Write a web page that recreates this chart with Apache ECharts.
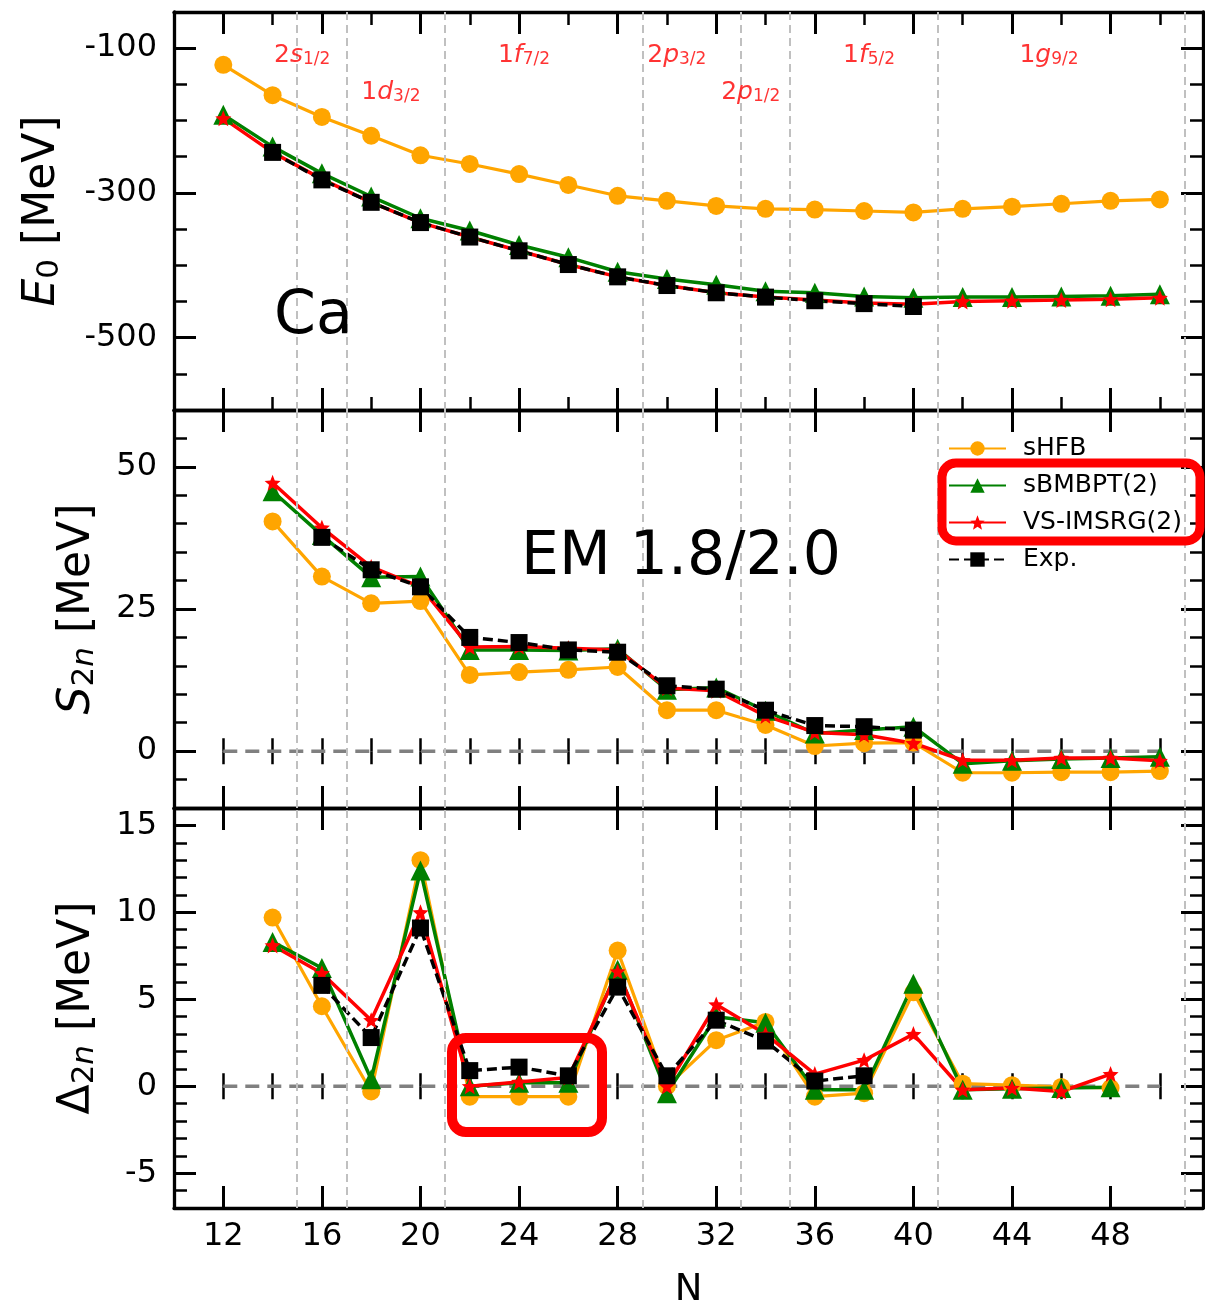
<!DOCTYPE html>
<html>
<head>
<meta charset="utf-8">
<title>Ca EM 1.8/2.0</title>
<script src="https://cdn.jsdelivr.net/npm/echarts@6/dist/echarts.min.js"></script>
<style>
  html, body { margin: 0; padding: 0; background: #fff; }
  #main { width: 1205px; height: 1308px; }
</style>
</head>
<body>
<div id="main"></div>
<script>
// ---- data ----
var N_all = [12, 14, 16, 18, 20, 22, 24, 26, 28, 30, 32, 34, 36, 38, 40, 42, 44, 46, 48, 50];
var E0_sHFB   = [-123, -165, -195, -221, -248, -260, -274, -289, -304, -311, -318, -322, -323, -325, -327, -322, -319, -315, -311, -309];
var E0_sBMBPT = [-192, -236, -273, -305, -335, -352, -372, -389, -409, -419, -427, -436, -438, -443, -445, -444, -444, -443, -442, -440];
var E0_VS     = [-197, -244, -281, -313, -341, -361, -380, -399, -416, -428, -438, -444, -448, -452, -454, -450, -449, -448, -447, -445];
var N_E0exp   = [14, 16, 18, 20, 22, 24, 26, 28, 30, 32, 34, 36, 38, 40];
var E0_exp    = [-244, -282, -313, -341, -361, -380, -399, -416, -428, -438, -444, -449, -453, -457];

var N_S2n      = [14, 16, 18, 20, 22, 24, 26, 28, 30, 32, 34, 36, 38, 40, 42, 44, 46, 48, 50];
var S2n_sHFB   = [40.4, 30.7, 26.0, 26.4, 13.4, 13.9, 14.3, 14.8, 7.2, 7.2, 4.6, 0.9, 1.4, 1.5, -3.8, -3.8, -3.7, -3.7, -3.5];
var S2n_sBMBPT = [45.7, 38.0, 30.6, 30.7, 17.8, 17.8, 17.7, 18.0, 10.8, 11.2, 7.1, 3.1, 3.7, 4.3, -2.2, -1.7, -1.4, -1.2, -1.0];
var S2n_VS     = [47.2, 39.3, 32.4, 28.9, 18.3, 18.4, 18.1, 17.8, 11.1, 10.6, 6.2, 3.3, 2.9, 1.4, -1.6, -1.6, -1.2, -1.2, -1.7];
var N_S2nexp   = [16, 18, 20, 22, 24, 26, 28, 30, 32, 34, 36, 38, 40];
var S2n_exp    = [37.6, 31.9, 28.9, 20.0, 19.1, 17.8, 17.4, 11.5, 10.9, 7.2, 4.5, 4.3, 3.7];

var N_D2n      = [14, 16, 18, 20, 22, 24, 26, 28, 30, 32, 34, 36, 38, 40, 42, 44, 46, 48];
var D2n_sHFB   = [9.7, 4.6, -0.3, 13.0, -0.6, -0.6, -0.6, 7.8, 0.0, 2.65, 3.7, -0.6, -0.4, 5.4, 0.15, 0.06, -0.04, -0.1];
var D2n_sBMBPT = [8.3, 6.8, 0.4, 12.4, 0.0, 0.2, 0.2, 6.7, -0.4, 4.0, 3.65, -0.2, -0.2, 5.9, -0.2, -0.15, -0.1, -0.05];
var D2n_VS     = [8.1, 6.5, 3.8, 10.0, 0.0, 0.25, 0.5, 6.6, 0.0, 4.7, 3.0, 0.7, 1.5, 3.0, -0.2, -0.1, -0.3, 0.7];
var N_D2nexp   = [16, 18, 20, 22, 24, 26, 28, 30, 32, 34, 36, 38];
var D2n_exp    = [5.8, 2.8, 9.1, 0.9, 1.1, 0.6, 5.7, 0.6, 3.8, 2.6, 0.3, 0.6];

// shell closures (dashed verticals) and shell labels
var shellEdges = [15, 17, 21, 29, 33, 35, 41, 51];
var shellN     = [15.2, 18.8, 24.2, 30.4, 33.4, 38.2, 45.5];
var shellE     = [-110, -161, -110, -110, -161, -110, -110];
var shellName  = [['2', 's', '1/2'], ['1', 'd', '3/2'], ['1', 'f', '7/2'], ['2', 'p', '3/2'],
                  ['2', 'p', '1/2'], ['1', 'f', '5/2'], ['1', 'g', '9/2']];
var zeroLineN  = [12, 50];

// axis ticks
var xRange = [10, 51.75];
var xMajor = [12, 16, 20, 24, 28, 32, 36, 40, 44, 48];
var yRange = [[-600, -50], [-10, 60], [-7, 16]];
var yMajor = [[-500, -300, -100], [0, 25, 50], [-5, 0, 5, 10, 15]];
var yMinorStep = [50, 5, 1];

var names = ['sHFB', 'sBMBPT(2)', 'VS-IMSRG(2)', 'Exp.'];

// ---- helpers ----
var FONT = 'DejaVu Sans';
function zip(xs, ys) {
    return xs.map(function (x, i) { return [x, ys[i]]; });
}
var starPath = 'path://M0,-10L2.6,-3.6L9.5,-3.1L4.2,1.4L5.9,8.1L0,4.4L-5.9,8.1L-4.2,1.4L-9.5,-3.1L-2.6,-3.6Z';
var look = {
    'sHFB':        { color: '#FFA500', symbol: 'circle',   size: 18, width: 3.2, type: 'solid' },
    'sBMBPT(2)':   { color: '#008000', symbol: 'triangle', size: 20, width: 3.5, type: 'solid' },
    'VS-IMSRG(2)': { color: '#FF0000', symbol: starPath,   size: 16, width: 3.5, type: 'solid' },
    'Exp.':        { color: '#000000', symbol: 'rect',     size: 17, width: 3.5, type: [10, 5] }
};

// fixed panel boxes (no auto shrinking in v6)
var grids = [
    { left: 174, width: 1029, top: 12,  height: 398, outerBoundsMode: 'none' },
    { left: 174, width: 1029, top: 410, height: 398, outerBoundsMode: 'none' },
    { left: 174, width: 1029, top: 808, height: 400, outerBoundsMode: 'none' }
];

var lineBlack = { color: '#000', width: 3.3 };
var xAxes = [], yAxes = [];
grids.forEach(function (gr, g) {
    ['bottom', 'top'].forEach(function (pos) {
        var labels = (g === 2 && pos === 'bottom');
        xAxes.push({
            gridIndex: g, type: 'value', position: pos, min: xRange[0], max: xRange[1],
            axisLine: { show: true, onZero: false, lineStyle: lineBlack },
            axisTick: { show: true, inside: true, length: 22, customValues: xMajor,
                        lineStyle: { color: '#000', width: 3 } },
            axisLabel: { show: labels, customValues: xMajor, margin: 13,
                         fontSize: 32, color: '#000', fontFamily: FONT },
            splitLine: { show: false },
            name: labels ? 'N' : '', nameLocation: 'middle', nameGap: 64,
            nameTextStyle: { fontSize: 37, color: '#000', fontFamily: FONT }
        });
        xAxes.push({
            gridIndex: g, type: 'value', position: pos, min: xRange[0], max: xRange[1], interval: 2,
            axisLine: { show: false },
            axisTick: { show: true, inside: true, length: 13, lineStyle: { color: '#000', width: 2.5 } },
            axisLabel: { show: false }, splitLine: { show: false }
        });
    });
    ['left', 'right'].forEach(function (pos) {
        var left = pos === 'left';
        var yname = '';
        if (left) {
            yname = ['{i|E}{s|0}{t| [MeV]}', '{i|S}{s|2}{si|n}{t| [MeV]}', '{t|\u0394}{s|2}{si|n}{t| [MeV]}'][g];
        }
        yAxes.push({
            gridIndex: g, type: 'value', position: pos, min: yRange[g][0], max: yRange[g][1],
            axisLine: { show: true, onZero: false, lineStyle: lineBlack },
            axisTick: { show: true, inside: true, length: 22, customValues: yMajor[g],
                        lineStyle: { color: '#000', width: 3 } },
            axisLabel: { show: left, customValues: yMajor[g], margin: 17,
                         fontSize: 32, color: '#000', fontFamily: FONT },
            splitLine: { show: false },
            name: yname, nameLocation: 'middle', nameRotate: 90, nameGap: g === 0 ? 109 : 74,
            nameTextStyle: {
                color: '#000', fontFamily: FONT,
                rich: {
                    i:  { fontSize: 44, lineHeight: 44, fontStyle: 'italic', fontFamily: FONT, color: '#000', verticalAlign: 'top' },
                    t:  { fontSize: 44, lineHeight: 44, fontFamily: FONT, color: '#000', verticalAlign: 'top' },
                    s:  { fontSize: 31, lineHeight: 31, fontFamily: FONT, color: '#000', verticalAlign: 'bottom', padding: [18, 0, 0, 0] },
                    si: { fontSize: 31, lineHeight: 31, fontStyle: 'italic', fontFamily: FONT, color: '#000', verticalAlign: 'bottom', padding: [18, 0, 0, 0] }
                }
            }
        });
        yAxes.push({
            gridIndex: g, type: 'value', position: pos, min: yRange[g][0], max: yRange[g][1],
            interval: yMinorStep[g],
            axisLine: { show: false },
            axisTick: { show: true, inside: true, length: 13, lineStyle: { color: '#000', width: 2.5 } },
            axisLabel: { show: false }, splitLine: { show: false }
        });
    });
});

var series = [];
function curve(name, g, xs, ys) {
    var s = look[name];
    series.push({
        name: name, type: 'line', xAxisIndex: g * 4, yAxisIndex: g * 4,
        data: zip(xs, ys),
        symbol: s.symbol, symbolSize: s.size, showSymbol: true,
        itemStyle: { color: s.color, borderWidth: 0 },
        lineStyle: { color: s.color, width: s.width, type: s.type },
        z: 3, silent: true
    });
}

// dashed shell lines (and zero lines) per panel
grids.forEach(function (gr, g) {
    series.push({
        type: 'line', xAxisIndex: g * 4, yAxisIndex: g * 4, z: 1, silent: true,
        data: g === 0 ? [] : zip(zeroLineN, [0, 0]),
        symbol: 'none',
        lineStyle: { color: '#808080', width: 3.5, type: [14, 8] },
        markLine: {
            silent: true, symbol: 'none', label: { show: false },
            lineStyle: { color: '#c0c0c0', width: 2, type: [8, 5] },
            data: shellEdges.map(function (v) { return { xAxis: v }; })
        }
    });
});

curve('sHFB', 0, N_all, E0_sHFB);
curve('sBMBPT(2)', 0, N_all, E0_sBMBPT);
curve('VS-IMSRG(2)', 0, N_all, E0_VS);
curve('Exp.', 0, N_E0exp, E0_exp);

curve('sHFB', 1, N_S2n, S2n_sHFB);
curve('sBMBPT(2)', 1, N_S2n, S2n_sBMBPT);
curve('VS-IMSRG(2)', 1, N_S2n, S2n_VS);
curve('Exp.', 1, N_S2nexp, S2n_exp);

curve('sHFB', 2, N_D2n, D2n_sHFB);
curve('sBMBPT(2)', 2, N_D2n, D2n_sBMBPT);
curve('VS-IMSRG(2)', 2, N_D2n, D2n_VS);
curve('Exp.', 2, N_D2nexp, D2n_exp);

// shell labels
series.push({
    type: 'scatter', xAxisIndex: 0, yAxisIndex: 0, symbolSize: 0, silent: true, z: 5,
    data: zip(shellN, shellE),
    label: {
        show: true, position: 'inside',
        formatter: function (p) {
            var t = shellName[p.dataIndex];
            return '{n|' + t[0] + '}{i|' + t[1] + '}{s|' + t[2] + '}';
        },
        rich: {
            n: { fontSize: 25, lineHeight: 25, color: '#FF0000', fontFamily: FONT, verticalAlign: 'top' },
            i: { fontSize: 25, lineHeight: 25, color: '#FF0000', fontFamily: FONT, fontStyle: 'italic', verticalAlign: 'top' },
            s: { fontSize: 17, lineHeight: 17, color: '#FF0000', fontFamily: FONT, verticalAlign: 'bottom', padding: [12, 0, 0, 0] }
        }
    }
});

var option = {
    animation: false,
    backgroundColor: '#fff',
    grid: grids,
    xAxis: xAxes,
    yAxis: yAxes,
    legend: {
        data: names, orient: 'vertical', left: 943, top: 431,
        itemWidth: 57, itemHeight: 18, itemGap: 12,
        formatter: function (n) { return '{a|' + n + '}'; },
        textStyle: {
            fontSize: 25, color: '#000', fontFamily: FONT,
            rich: { a: { fontSize: 25, color: '#000', fontFamily: FONT, padding: [0, 0, 0, 12] } }
        },
        selectedMode: false
    },
    graphic: [
        { type: 'text', left: 274, top: 287, z: 10,
          style: { text: 'Ca', font: '60px "DejaVu Sans"', fill: '#000' } },
        { type: 'text', left: 521, top: 528, z: 10,
          style: { text: 'EM 1.8/2.0', font: '60px "DejaVu Sans"', fill: '#000' } },
        { type: 'rect', z: 20, shape: { x: 942, y: 463, width: 258, height: 78, r: 14 },
          style: { fill: 'none', stroke: '#FF0000', lineWidth: 9 } },
        { type: 'rect', z: 20, shape: { x: 452, y: 1038, width: 150, height: 94, r: 14 },
          style: { fill: 'none', stroke: '#FF0000', lineWidth: 10 } }
    ],
    series: series
};

var chart = echarts.init(document.getElementById('main'), null, { renderer: 'canvas' });
chart.setOption(option);
</script>
</body>
</html>
